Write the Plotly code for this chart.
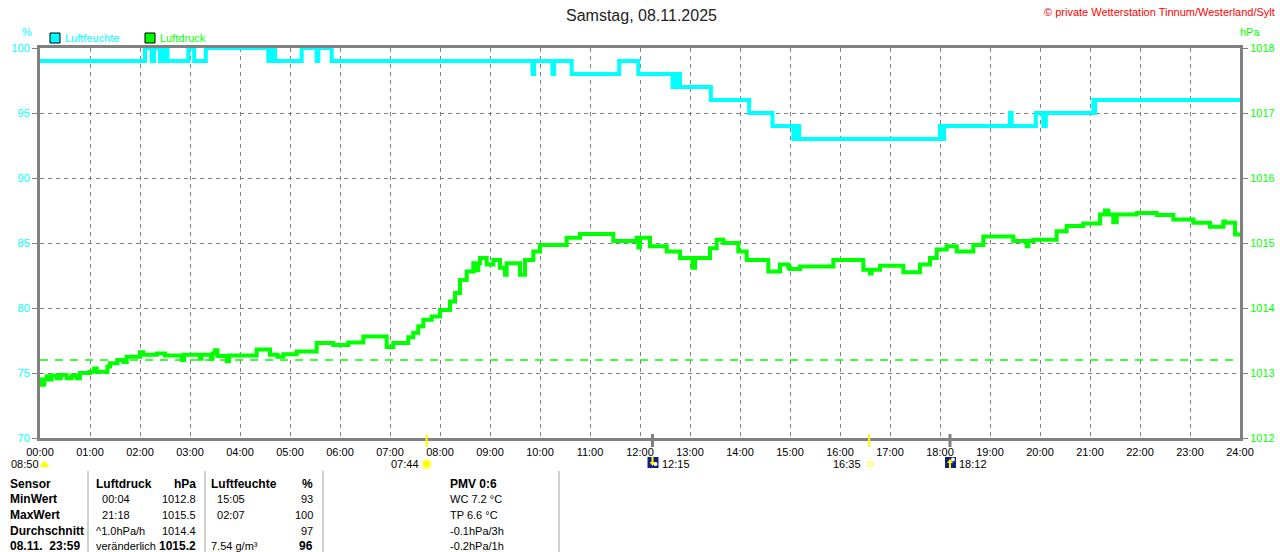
import plotly.graph_objects as go

HUM_TIMES = [
    "00:00", "02:06", "02:14", "02:17", "02:24", "02:28", "02:30", "02:32", "02:33",
    "02:58", "03:05", "03:19", "04:34", "04:37", "04:39", "04:40", "04:42", "05:14",
    "05:32", "05:34", "05:50", "09:51", "09:53", "10:15", "10:17", "10:38", "11:35",
    "11:58", "12:39", "12:41", "12:45", "12:47", "12:48", "13:25", "14:11", "14:39",
    "15:04", "15:06", "15:08", "15:10", "15:11", "18:00", "18:02", "18:05", "19:24",
    "19:26", "19:55", "20:04", "20:07", "21:04", "21:05", "21:06", "24:00",
]
HUM_VALUES = [
    99, 100, 99, 100, 99, 100, 99, 100, 99,
    100, 99, 100, 99, 100, 99, 100, 99, 100,
    99, 100, 99, 98, 99, 98, 99, 98, 99,
    98, 97, 98, 97, 98, 97, 96, 95, 94,
    93, 94, 93, 94, 93, 94, 93, 94, 95,
    94, 95, 94, 95, 96, 95, 96, 96,
]

PRESS_TIMES = [
    "00:00", "00:02", "00:05", "00:08", "00:10", "00:14", "00:20", "00:25", "00:32",
    "00:38", "00:44", "00:48", "01:00", "01:05", "01:08", "01:21", "01:24", "01:33",
    "01:40", "01:44", "02:00", "02:04", "02:20", "02:30", "02:50", "02:53", "03:12",
    "03:14", "03:25", "03:27", "03:30", "03:33", "03:44", "03:47", "04:20", "04:36",
    "04:45", "04:52", "05:08", "05:32", "05:52", "06:10", "06:28", "06:56", "07:04",
    "07:22", "07:28", "07:34", "07:40", "07:50", "08:00", "08:12", "08:18", "08:24",
    "08:32", "08:40", "08:44", "08:46", "08:48", "08:56", "09:04", "09:12", "09:18",
    "09:20", "09:36", "09:42", "09:52", "10:00", "10:32", "10:48", "11:28", "11:56",
    "11:58", "12:00", "12:12", "12:32", "12:48", "13:03", "13:06", "13:24", "13:32",
    "13:40", "13:58", "14:08", "14:34", "14:48", "14:58", "15:00", "15:12", "15:52",
    "16:28", "16:36", "16:38", "16:48", "17:16", "17:36", "17:48", "17:56", "18:08",
    "18:20", "18:40", "18:52", "19:28", "19:44", "19:46", "19:52", "20:20", "20:32",
    "20:52", "21:12", "21:18", "21:22", "21:28", "21:32", "21:56", "22:20", "22:40",
    "23:04", "23:24", "23:40", "23:42", "23:54", "24:00",
]
PRESS_VALUES = [
    1012.90, 1012.82, 1012.90, 1012.95, 1012.90, 1012.96, 1012.92, 1012.97, 1012.92,
    1012.96, 1012.92, 1013.00, 1013.02, 1013.07, 1013.02, 1013.10, 1013.15, 1013.20,
    1013.17, 1013.25, 1013.32, 1013.28, 1013.30, 1013.27, 1013.20, 1013.28, 1013.22,
    1013.28, 1013.22, 1013.30, 1013.35, 1013.26, 1013.18, 1013.27, 1013.36, 1013.28,
    1013.25, 1013.29, 1013.33, 1013.46, 1013.43, 1013.47, 1013.56, 1013.40, 1013.46,
    1013.55, 1013.62, 1013.72, 1013.82, 1013.87, 1013.97, 1014.10, 1014.23, 1014.43,
    1014.56, 1014.69, 1014.58, 1014.69, 1014.77, 1014.67, 1014.74, 1014.62, 1014.51,
    1014.69, 1014.51, 1014.74, 1014.87, 1014.97, 1015.08, 1015.14, 1015.03, 1015.08,
    1014.93, 1015.08, 1014.95, 1014.87, 1014.77, 1014.62, 1014.77, 1014.92, 1015.05,
    1015.00, 1014.87, 1014.74, 1014.56, 1014.67, 1014.62, 1014.60, 1014.64, 1014.74,
    1014.59, 1014.53, 1014.59, 1014.65, 1014.55, 1014.67, 1014.77, 1014.90, 1014.95,
    1014.87, 1014.97, 1015.10, 1015.03, 1014.95, 1015.03, 1015.05, 1015.18, 1015.26,
    1015.30, 1015.44, 1015.50, 1015.44, 1015.32, 1015.44, 1015.46, 1015.43, 1015.36,
    1015.31, 1015.25, 1015.33, 1015.31, 1015.13, 1015.13,
]
REFERENCE_HPA = 1013.2

HOUR_LABELS = ["%02d:00" % h for h in range(25)]
HUM_TICKS = [70, 75, 80, 85, 90, 95, 100]
PRESS_TICKS = [1012, 1013, 1014, 1015, 1016, 1017, 1018]

TITLE = "Samstag, 08.11.2025"
COPYRIGHT = "© private Wetterstation Tinnum/Westerland/Sylt"

# Sonne / Mond
DAYLENGTH = "08:50"
SUNRISE = "07:44"
SUNSET = "16:35"
MOONSET = "12:15"
MOONRISE = "18:12"

# Tabelle unten
ROW_LABELS = ["Sensor", "MinWert", "MaxWert", "Durchschnitt", "08.11.  23:59"]
PRESS_INFO = ["Luftdruck", "  00:04", "  21:18", "^1.0hPa/h", "veränderlich"]
PRESS_NUMS = ["hPa", "1012.8", "1015.5", "1014.4", "1015.2"]
HUM_INFO = ["Luftfeuchte", "  15:05", "  02:07", "", "7.54 g/m³"]
HUM_NUMS = ["%", "93", "100", "97", "96"]
EXTRA_INFO = ["PMV 0:6", "WC 7.2 °C", "TP 6.6 °C", "-0.1hPa/3h", "-0.2hPa/1h"]

CYAN = "#00FFFF"
GREEN = "#00FF00"
GRAY = "#808080"
YELLOW = "#FFFF00"
FONT = "Liberation Sans, Arial, sans-serif"

W, H = 1280, 552
L, R, T, B = 40, 1240, 48, 438


def hours(t):
    h, m = t.split(":")
    return int(h) + int(m) / 60.0


def px(x):
    return (x - L) / (R - L)


def py(y):
    return (B - y) / (B - T)


def text(x, y, s, color="black", size=11, anchor="left", bold=False):
    if bold:
        s = "<b>%s</b>" % s
    return dict(x=px(x), y=py(y), xref="paper", yref="paper", text=s, showarrow=False,
                xanchor=anchor, yanchor="middle", font=dict(family=FONT, size=size, color=color))


fig = go.Figure()
fig.add_trace(go.Scatter(x=[hours(t) for t in HUM_TIMES], y=HUM_VALUES, mode="lines",
                         line=dict(color=CYAN, width=4, shape="hv"), yaxis="y", showlegend=False))
fig.add_trace(go.Scatter(x=[0, 24], y=[REFERENCE_HPA, REFERENCE_HPA], mode="lines",
                         line=dict(color=GREEN, width=1.5, dash="8px,7px"), yaxis="y2", showlegend=False))
fig.add_trace(go.Scatter(x=[hours(t) for t in PRESS_TIMES], y=PRESS_VALUES, mode="lines",
                         line=dict(color=GREEN, width=4, shape="hv"), yaxis="y2", showlegend=False))

ann = []
shapes = []

ann.append(text(641, 15, TITLE, color="#222222", size=16, anchor="center"))
ann.append(text(1277, 12, COPYRIGHT, color="#FF0000", size=11, anchor="right"))
ann.append(text(27, 32, "%", color=CYAN, size=11, anchor="center"))
ann.append(text(1250, 32, "hPa", color=GREEN, size=11, anchor="center"))

# Legende
for x0, col, name in [(50, CYAN, "Luftfeuchte"), (145, GREEN, "Luftdruck")]:
    shapes.append(dict(type="rect", xref="paper", yref="paper", x0=px(x0), x1=px(x0 + 10),
                       y0=py(33), y1=py(43), fillcolor=col, line=dict(color="black", width=1)))
    ann.append(text(x0 + 13, 38, name, color=col, size=11))

# Sonne / Mond Markierungen
for t, col in [(SUNRISE, YELLOW), (SUNSET, YELLOW), (MOONSET, GRAY), (MOONRISE, GRAY)]:
    xp = L + hours(t) / 24 * (R - L)
    shapes.append(dict(type="line", xref="paper", yref="paper", x0=px(xp), x1=px(xp),
                       y0=py(434), y1=py(447), line=dict(color=col, width=2 if col == YELLOW else 3)))

ann.append(text(9, 464, DAYLENGTH))
shapes.append(dict(type="path", xref="paper", yref="paper", fillcolor=YELLOW, line=dict(width=0),
                   path="M %f,%f Q %f,%f %f,%f Z" % (px(40), py(467), px(44.5), py(456), px(49), py(467))))

xs = L + hours(SUNRISE) / 24 * (R - L)
ann.append(text(xs - 6, 464, SUNRISE, anchor="right"))
shapes.append(dict(type="circle", xref="paper", yref="paper", x0=px(xs - 5.5), x1=px(xs + 5.5),
                   y0=py(458.5), y1=py(469.5), fillcolor="#FFFF99", line=dict(width=0)))
shapes.append(dict(type="circle", xref="paper", yref="paper", x0=px(xs - 3.5), x1=px(xs + 3.5),
                   y0=py(460.5), y1=py(467.5), fillcolor=YELLOW, line=dict(width=0)))

xs = L + hours(SUNSET) / 24 * (R - L)
ann.append(text(xs - 6, 464, SUNSET, anchor="right"))
shapes.append(dict(type="rect", xref="paper", yref="paper", x0=px(xs - 1), x1=px(xs + 3),
                   y0=py(462), y1=py(466), line=dict(color=YELLOW, width=1)))

for t, up in [(MOONSET, False), (MOONRISE, True)]:
    xm = L + hours(t) / 24 * (R - L)
    shapes.append(dict(type="rect", xref="paper", yref="paper", x0=px(xm - 5), x1=px(xm + 6),
                       y0=py(457), y1=py(468), fillcolor="#102080", line=dict(width=0)))
    shapes.append(dict(type="circle", xref="paper", yref="paper", x0=px(xm + 1), x1=px(xm + 5),
                       y0=py(462) if not up else py(457.5), y1=py(466) if not up else py(461.5),
                       fillcolor="white", line=dict(width=0)))
    if up:
        tri = (px(xm - 3), py(463), px(xm), py(459), px(xm + 3), py(463))
        stem = (px(xm), py(463), px(xm), py(468))
    else:
        tri = (px(xm - 3), py(462), px(xm), py(466), px(xm + 3), py(462))
        stem = (px(xm), py(457), px(xm), py(462))
    shapes.append(dict(type="path", xref="paper", yref="paper", fillcolor=YELLOW, line=dict(width=0),
                       path="M %f,%f L %f,%f L %f,%f Z" % tri))
    shapes.append(dict(type="line", xref="paper", yref="paper", x0=stem[0], y0=stem[1], x1=stem[2], y1=stem[3],
                       line=dict(color=YELLOW, width=2)))
    ann.append(text(xm + 7, 464, t))

# Tabelle
for xs in [88, 205, 323, 559]:
    shapes.append(dict(type="line", xref="paper", yref="paper", x0=px(xs), x1=px(xs),
                       y0=py(471), y1=py(560), line=dict(color="#A0A0A0", width=1)))

row_y = [484, 499.5, 515, 530.5, 545.5]
for i, y in enumerate(row_y):
    head = i == 0
    last = i == len(row_y) - 1
    ann.append(text(8, y, ROW_LABELS[i].replace(" ", "&nbsp;"), size=12, bold=True))
    ann.append(text(94, y, PRESS_INFO[i].replace(" ", "&nbsp;"), size=12 if head else 11, bold=head))
    ann.append(text(198, y, PRESS_NUMS[i], size=12 if (head or last) else 11, anchor="right", bold=head or last))
    ann.append(text(209, y, HUM_INFO[i].replace(" ", "&nbsp;"), size=12 if head else 11, bold=head))
    ann.append(text(315, y, HUM_NUMS[i], size=12 if (head or last) else 11, anchor="right", bold=head or last))
    ann.append(text(448, y, EXTRA_INFO[i], size=12 if head else 11, bold=head))

axis_common = dict(showline=True, linecolor=GRAY, linewidth=3, mirror=True, zeroline=False,
                   automargin=False, tickfont=dict(family=FONT, size=11))

fig.update_layout(
    width=W, height=H, autosize=False,
    margin=dict(l=L, r=W - R, t=T, b=H - B, pad=0, autoexpand=False),
    paper_bgcolor="white", plot_bgcolor="white",
    showlegend=False,
    xaxis=dict(axis_common, range=[0, 24], tickvals=list(range(25)), ticktext=HOUR_LABELS,
               showgrid=True, gridcolor=GRAY, gridwidth=1, griddash="4px,4px",
               ticks="", ticklabelstandoff=2, tickfont=dict(family=FONT, size=11, color="black")),
    yaxis=dict(axis_common, range=[70, 100], tickvals=HUM_TICKS,
               showgrid=True, gridcolor=GRAY, gridwidth=1, griddash="4px,4px",
               ticks="outside", ticklen=5, tickcolor=GRAY, tickwidth=1,
               tickfont=dict(family=FONT, size=11, color=CYAN)),
    yaxis2=dict(axis_common, range=[1012, 1018], tickvals=PRESS_TICKS, overlaying="y", side="right",
                showgrid=False, ticks="outside", ticklen=5, tickcolor=GRAY, tickwidth=1,
                tickfont=dict(family=FONT, size=11, color=GREEN)),
    annotations=ann,
    shapes=shapes,
)

fig.write_html("out.html", config={"displayModeBar": False},
               post_script="document.body.style.margin='0';document.body.style.overflow='hidden';")
